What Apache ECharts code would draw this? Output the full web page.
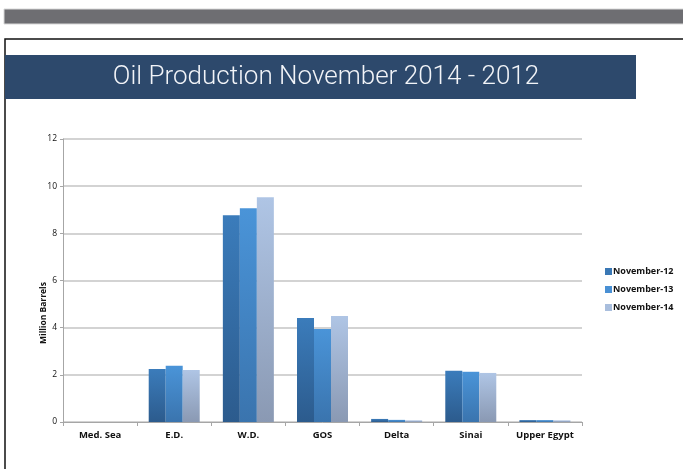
<!DOCTYPE html>
<html>
<head>
<meta charset="utf-8">
<script src="https://cdn.jsdelivr.net/npm/echarts@6/dist/echarts.min.js"></script>
<style>
  html, body { margin: 0; padding: 0; background: #ffffff; }
  #chart { width: 683px; height: 469px; }
</style>
</head>
<body>
<div id="chart"></div>
<script>
// Oil production by region, million barrels
const regions = ['Med. Sea', 'E.D.', 'W.D.', 'GOS', 'Delta', 'Sinai', 'Upper Egypt'];
const seriesNames = ['November-12', 'November-13', 'November-14'];
const nov12 = [0, 2.25, 8.77, 4.41, 0.13, 2.17, 0.08];
const nov13 = [0, 2.38, 9.06, 3.94, 0.09, 2.13, 0.08];
const nov14 = [0, 2.21, 9.53, 4.50, 0.07, 2.08, 0.07];
const yTicks = { min: 0, max: 12, interval: 2 };

const chartTitle = 'Oil Production November 2014 - 2012';
const yAxisTitle = 'Million Barrels';

const labelFont = '"Open Sans", "DejaVu Sans", sans-serif';

function grad(top, bottom) {
  return new echarts.graphic.LinearGradient(0, 0, 0, 1, [
    { offset: 0, color: top },
    { offset: 1, color: bottom }
  ]);
}

const fills = [
  grad('#3b7cbb', '#2c5b8d'),
  grad('#4a94d8', '#3a74ae'),
  grad('#afc5e5', '#8a99b3')
];
const legendColors = ['#3a78b5', '#4990d4', '#a9bedd'];
const values = [nov12, nov13, nov14];

const chart = echarts.init(document.getElementById('chart'), null, { renderer: 'canvas' });

chart.setOption({
  animation: false,
  backgroundColor: '#ffffff',
  graphic: [
    { type: 'rect', shape: { x: 4, y: 9, width: 690, height: 15 },
      style: { fill: '#6e6e72', stroke: '#d8d8d8', lineWidth: 1 } },
    { type: 'rect', shape: { x: 5, y: 39, width: 700, height: 450 },
      style: { fill: 'none', stroke: '#111111', lineWidth: 1.5 } },
    { type: 'rect', shape: { x: 5, y: 55, width: 631, height: 44 },
      style: { fill: '#2d496c' } },
    { type: 'text', x: 326, y: 77,
      style: { text: chartTitle, fill: '#f2f4f8', font: '300 26px Roboto',
               textAlign: 'center', textVerticalAlign: 'middle' } },
    { type: 'text', x: 44, y: 313, rotation: Math.PI / 2,
      style: { text: yAxisTitle, fill: '#111111', font: 'bold 8.5px "Open Sans"',
               textAlign: 'center', textVerticalAlign: 'middle' } }
  ],
  legend: {
    orient: 'vertical',
    left: 600,
    top: 262,
    itemWidth: 7,
    itemHeight: 7,
    itemGap: 9,
    icon: 'rect',
    data: seriesNames.map((n, i) => ({ name: n, itemStyle: { color: legendColors[i] } })),
    textStyle: { fontFamily: labelFont, fontWeight: 'bold', fontSize: 9, color: '#111', padding: [0, 0, 0, -4] }
  },
  grid: { left: 63, right: 101, top: 139, bottom: 47 },
  xAxis: {
    type: 'category',
    data: regions,
    axisLine: { lineStyle: { color: '#a6a6a6', width: 1 } },
    axisTick: { show: true, interval: 0, length: 4, alignWithLabel: false, lineStyle: { color: '#a6a6a6' } },
    axisLabel: { interval: 0, fontFamily: labelFont, fontWeight: 'bold', fontSize: 9.5, color: '#111', margin: 8 }
  },
  yAxis: {
    type: 'value',
    min: yTicks.min,
    max: yTicks.max,
    interval: yTicks.interval,
    axisLine: { show: true, lineStyle: { color: '#a6a6a6', width: 1 } },
    axisTick: { show: true, length: 3, lineStyle: { color: '#a6a6a6' } },
    axisLabel: { fontFamily: labelFont, fontSize: 8.5, color: '#111', margin: 6 },
    splitLine: { lineStyle: { color: '#c4c4c4', width: 1.5 } }
  },
  series: seriesNames.map((name, i) => ({
    name: name,
    type: 'bar',
    data: values[i],
    barWidth: 17,
    barGap: '0%',
    itemStyle: { color: fills[i] }
  }))
});
</script>
</body>
</html>
